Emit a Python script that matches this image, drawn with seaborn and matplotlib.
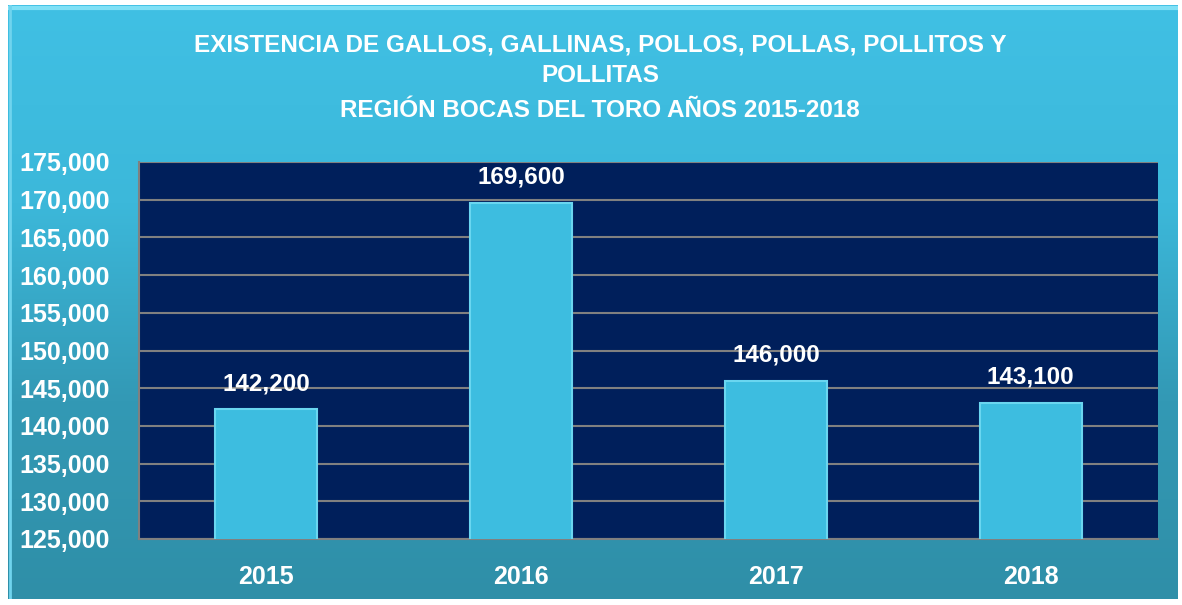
import numpy as np
import pandas as pd
import matplotlib
matplotlib.use("Agg")
import matplotlib.pyplot as plt
import seaborn as sns
from matplotlib.colors import LinearSegmentedColormap
from matplotlib.ticker import FuncFormatter, MultipleLocator

# ---------- data ----------
years = ["2015", "2016", "2017", "2018"]
existencia = [142200, 169600, 146000, 143100]
title_lines = [
    "EXISTENCIA DE GALLOS, GALLINAS, POLLOS, POLLAS, POLLITOS Y",
    "POLLITAS",
    "REGIÓN BOCAS DEL TORO AÑOS 2015-2018",
]

df = pd.DataFrame({"year": years, "value": existencia})

sns.set_style("white")
plt.rcParams["font.family"] = ["Liberation Sans Narrow", "Liberation Sans", "DejaVu Sans"]
plt.rcParams["font.weight"] = "bold"

W, H = 1182, 605
fig = plt.figure(figsize=(W / 100, H / 100), dpi=100, facecolor="white")

# ---------- cyan panel behind everything ----------
bg = fig.add_axes([8 / W, 6 / H, 1170 / W, 594 / H], zorder=0)
grad = LinearSegmentedColormap.from_list("panel", ["#2f8fa8", "#3399b5", "#3cb8da", "#40c0e4"])
bg.imshow(np.linspace(0, 1, 256).reshape(-1, 1), aspect="auto", cmap=grad,
          origin="lower", extent=[0, 1, 0, 1])
bg.plot([0, 1], [0.995, 0.995], color="#7fe0f6", lw=3)
bg.plot([0.002, 0.002], [0, 1], color="#6fd4ee", lw=2)
bg.set_xlim(0, 1)
bg.set_ylim(0, 1)
bg.axis("off")

# ---------- bar chart ----------
ax = fig.add_axes([139 / W, 1 - 539 / H, (1158 - 139) / W, (539 - 162) / H], zorder=1)
ax.set_facecolor("#001f5b")
sns.barplot(data=df, x="year", y="value", color="#3dbde0", width=0.4,
            edgecolor="#6ad6f0", linewidth=1.5, saturation=1, ax=ax, zorder=3)

ax.set_ylim(125000, 175000)
ax.set_xlim(-0.5, 3.5)
ax.yaxis.set_major_locator(MultipleLocator(5000))
ax.yaxis.set_major_formatter(FuncFormatter(lambda v, p: f"{v:,.0f}"))
ax.grid(axis="y", color="#808080", lw=1.5, zorder=1)
ax.grid(axis="x", visible=False)
ax.set_axisbelow(True)

for s in ["top", "right"]:
    ax.spines[s].set_visible(False)
for s in ["left", "bottom"]:
    ax.spines[s].set_color("#808080")
    ax.spines[s].set_linewidth(1.5)

ax.set_xticks([-0.5, 0.5, 1.5, 2.5, 3.5], minor=False)
ax.set_xticklabels([])
ax.set_xticks(range(len(years)), minor=True)
ax.set_xticklabels(years, minor=True)
ax.tick_params(axis="x", which="major", length=6, width=1.5, color="#808080")
ax.tick_params(axis="x", which="minor", length=0, pad=19, labelsize=18, labelcolor="white")
ax.tick_params(axis="y", length=7, width=1.5, color="#808080", pad=14,
               labelsize=18, labelcolor="white")
for lab in ax.get_xticklabels(minor=True) + ax.get_yticklabels():
    lab.set_fontweight("bold")
ax.set_xlabel("")
ax.set_ylabel("")

for i, v in enumerate(existencia):
    ax.annotate(f"{v:,}", (i, v), xytext=(0, 10), textcoords="offset points",
                ha="center", va="bottom", color="white", fontsize=17.5, fontweight="bold")

# title, one line at a time (the last line sits a little lower in the original)
for line, ypix in zip(title_lines, [45, 76, 110]):
    fig.text(600 / W, 1 - ypix / H, line, ha="center", va="center",
             color="white", fontsize=17.5, fontweight="bold")

fig.savefig("out.png", dpi=100, facecolor="white")
